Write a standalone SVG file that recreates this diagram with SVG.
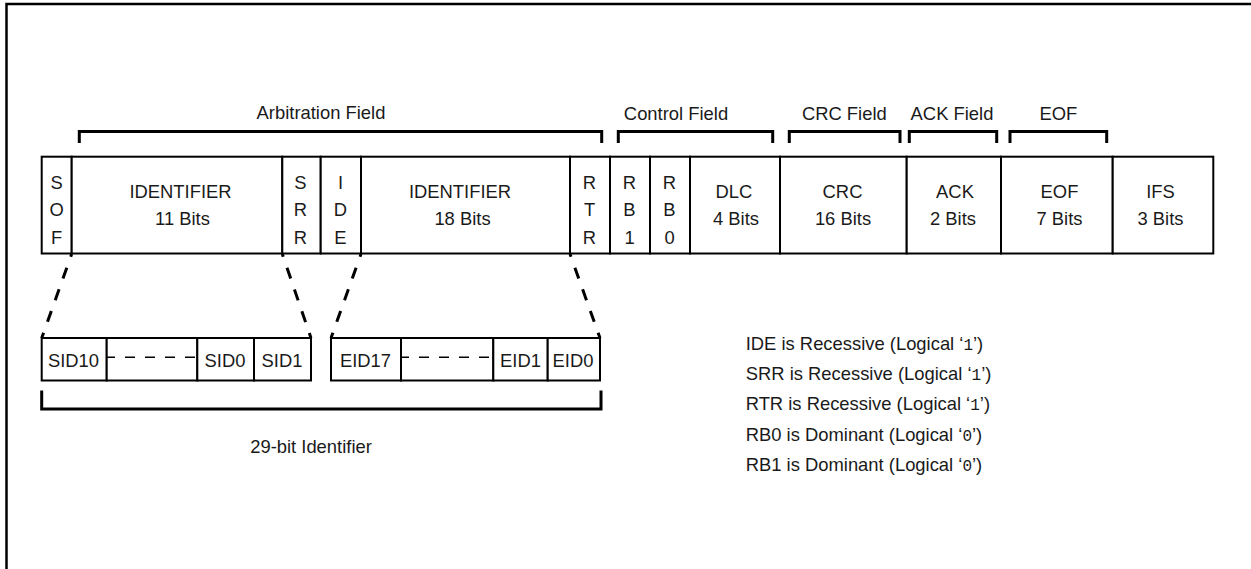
<svg xmlns="http://www.w3.org/2000/svg" width="1251" height="569" viewBox="0 0 1251 569">
<style>
  text { font-family: "Liberation Sans", Arial, sans-serif; font-size: 18.4px; fill: #1a1a1a; }
  .c { text-anchor: middle; }
  .cell { fill: #fff; stroke: #000; stroke-width: 2; }
  .br { fill: none; stroke: #000; stroke-width: 3; }
  .dash { fill: none; stroke: #000; stroke-width: 3; stroke-dasharray: 11.5 11.5; stroke-dashoffset: 8.5; }
  .hd { stroke: #000; stroke-width: 1.5; stroke-dasharray: 10 10; stroke-dashoffset: 2; }
  .mono { font-family: "Liberation Mono", "Courier New", monospace; font-size: 16px; }
</style>
<rect width="1251" height="569" fill="#fff"/>
<path d="M6.5 569 V4 H1251" fill="none" stroke="#000" stroke-width="2.5"/>

<g id="arbitration-field">
  <path class="br" d="M79.3 143 V131.5 H601.7 V143"/>
  <text class="c" x="321" y="119">Arbitration Field</text>
</g>
<g id="control-field">
  <path class="br" d="M618.3 143 V131.5 H772.7 V143"/>
  <text class="c" x="676" y="120">Control Field</text>
</g>
<g id="crc-field">
  <path class="br" d="M789.3 143 V131.5 H900 V143"/>
  <text class="c" x="844.3" y="120">CRC Field</text>
</g>
<g id="ack-field">
  <path class="br" d="M909.3 143 V131.5 H996.7 V143"/>
  <text class="c" x="952" y="120">ACK Field</text>
</g>
<g id="eof-field">
  <path class="br" d="M1010 143 V131.5 H1106.7 V143"/>
  <text class="c" x="1058.3" y="120">EOF</text>
</g>

<g id="sof">
  <rect class="cell" x="41.7" y="156.7" width="30" height="96.8"/>
  <text class="c" x="56.7" y="188.5">S</text>
  <text class="c" x="56.7" y="216">O</text>
  <text class="c" x="56.7" y="244">F</text>
</g>
<g id="identifier-11">
  <rect class="cell" x="71.7" y="156.7" width="210.6" height="96.8"/>
  <text class="c" x="180.5" y="198">IDENTIFIER</text>
  <text class="c" x="182.5" y="225">11 Bits</text>
</g>
<g id="srr">
  <rect class="cell" x="282.3" y="156.7" width="38.4" height="96.8"/>
  <text class="c" x="300.5" y="188.5">S</text>
  <text class="c" x="300.5" y="216">R</text>
  <text class="c" x="300.5" y="244">R</text>
</g>
<g id="ide">
  <rect class="cell" x="320.7" y="156.7" width="40.3" height="96.8"/>
  <text class="c" x="340.5" y="188.5">I</text>
  <text class="c" x="340.5" y="216">D</text>
  <text class="c" x="340.5" y="244">E</text>
</g>
<g id="identifier-18">
  <rect class="cell" x="361" y="156.7" width="209" height="96.8"/>
  <text class="c" x="460" y="198">IDENTIFIER</text>
  <text class="c" x="462.5" y="225">18 Bits</text>
</g>
<g id="rtr">
  <rect class="cell" x="570" y="156.7" width="40" height="96.8"/>
  <text class="c" x="589.5" y="188.5">R</text>
  <text class="c" x="589.5" y="216">T</text>
  <text class="c" x="589.5" y="244">R</text>
</g>
<g id="rb1">
  <rect class="cell" x="610" y="156.7" width="40" height="96.8"/>
  <text class="c" x="629.5" y="188.5">R</text>
  <text class="c" x="629.5" y="216">B</text>
  <text class="c" x="629.5" y="244">1</text>
</g>
<g id="rb0">
  <rect class="cell" x="650" y="156.7" width="40" height="96.8"/>
  <text class="c" x="669.5" y="188.5">R</text>
  <text class="c" x="669.5" y="216">B</text>
  <text class="c" x="669.5" y="244">0</text>
</g>
<g id="dlc">
  <rect class="cell" x="690" y="156.7" width="90" height="96.8"/>
  <text class="c" x="734" y="198">DLC</text>
  <text class="c" x="736" y="225">4 Bits</text>
</g>
<g id="crc">
  <rect class="cell" x="780" y="156.7" width="126.7" height="96.8"/>
  <text class="c" x="842.5" y="198">CRC</text>
  <text class="c" x="843" y="225">16 Bits</text>
</g>
<g id="ack">
  <rect class="cell" x="906.7" y="156.7" width="94.3" height="96.8"/>
  <text class="c" x="955" y="198">ACK</text>
  <text class="c" x="953" y="225">2 Bits</text>
</g>
<g id="eof">
  <rect class="cell" x="1001" y="156.7" width="111.7" height="96.8"/>
  <text class="c" x="1059.5" y="198">EOF</text>
  <text class="c" x="1059.5" y="225">7 Bits</text>
</g>
<g id="ifs">
  <rect class="cell" x="1112.7" y="156.7" width="100.6" height="96.8"/>
  <text class="c" x="1160.5" y="198">IFS</text>
  <text class="c" x="1160.5" y="225">3 Bits</text>
</g>

<g id="sid-box">
  <rect class="cell" x="41.7" y="338" width="65" height="42.5"/>
  <text class="c" x="73.5" y="367">SID10</text>
  <rect class="cell" x="106.7" y="338" width="90.6" height="42.5"/>
  <line class="hd" x1="107" y1="357.3" x2="197" y2="357.3"/>
  <rect class="cell" x="197.3" y="338" width="56.7" height="42.5"/>
  <text class="c" x="225" y="367">SID0</text>
  <rect class="cell" x="254" y="338" width="57" height="42.5"/>
  <text class="c" x="282" y="367">SID1</text>
</g>
<g id="eid-box">
  <rect class="cell" x="331" y="338" width="70" height="42.5"/>
  <text class="c" x="365.5" y="367">EID17</text>
  <rect class="cell" x="401" y="338" width="92.3" height="42.5"/>
  <line class="hd" x1="401" y1="357.3" x2="493" y2="357.3"/>
  <rect class="cell" x="493.3" y="338" width="54.4" height="42.5"/>
  <text class="c" x="520.5" y="367">EID1</text>
  <rect class="cell" x="547.7" y="338" width="52.3" height="42.5"/>
  <text class="c" x="573" y="367">EID0</text>
</g>

<g id="identifier-29">
  <path class="br" d="M41.7 390.5 V409 H601 V390.5"/>
  <text class="c" x="311" y="453.3">29-bit Identifier</text>
</g>

<g id="notes">
  <text x="745.7" y="350">IDE is Recessive (Logical ‘<tspan class="mono">1</tspan>’)</text>
  <text x="745.7" y="380">SRR is Recessive (Logical ‘<tspan class="mono">1</tspan>’)</text>
  <text x="745.7" y="410">RTR is Recessive (Logical ‘<tspan class="mono">1</tspan>’)</text>
  <text x="745.7" y="440.5">RB0 is Dominant (Logical ‘<tspan class="mono">0</tspan>’)</text>
  <text x="745.7" y="470.5">RB1 is Dominant (Logical ‘<tspan class="mono">0</tspan>’)</text>
</g>

<g id="connectors">
  <path class="dash" d="M71.7 254 L41.7 338"/>
  <path class="dash" d="M282.3 254 L311 338"/>
  <path class="dash" d="M361 254 L331 338"/>
  <path class="dash" d="M570 254 L600 338"/>
</g>
</svg>
